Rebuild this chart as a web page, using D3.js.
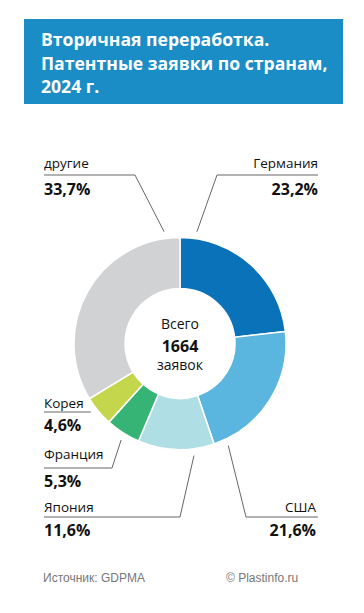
<!DOCTYPE html>
<html>
<head>
<meta charset="UTF-8">
<script src="https://d3js.org/d3.v7.min.js"></script>
<style>
  body { margin: 0; background: #fff; }
  svg { display: block; }
</style>
</head>
<body>
<svg></svg>
<script>
const width = 364;
const height = 613;

const titleLines = ["Вторичная переработка.", "Патентные заявки по странам,", "2024 г."];
const countries = ["Германия", "США", "Япония", "Франция", "Корея", "другие"];
const shares = [23.2, 21.6, 11.6, 5.3, 4.6, 33.7];
const colors = ["#0a72b9", "#5bb6df", "#afdee5", "#36b475", "#c4d64b", "#d1d2d4"];
const totalLabel = ["Всего", "1664", "заявок"];

// label layout: leader angle (deg from top, clockwise), elbow point, text position
const labelLayout = [
  {angle: 8.6,   elbow: [217, 175], x: 318, anchor: "end",   y: 168, dy: 27},
  {angle: 154.7, elbow: [246, 517], x: 316, anchor: "end",   y: 512, dy: 24},
  {angle: 172.9, elbow: [180, 517], x: 44,  anchor: "start", y: 512, dy: 24},
  {angle: 211.4, elbow: [112, 468], x: 44,  anchor: "start", y: 459, dy: 28},
  {angle: 232.1, elbow: null,       x: 44,  anchor: "start", y: 408, dy: 23},
  {angle: 351.9, elbow: [135, 175], x: 44,  anchor: "start", y: 168, dy: 27}
];

const font = "'Open Sans', 'Noto Sans', sans-serif";
const cx = 180, cy = 343.5;
const outerR = 106, innerR = 55;

const svg = d3.select("svg")
  .attr("width", width)
  .attr("height", height)
  .attr("viewBox", [0, 0, width, height]);

// header
svg.append("rect")
  .attr("x", 24).attr("y", 19)
  .attr("width", 319).attr("height", 85)
  .attr("fill", "#1a8cc6");

svg.append("g")
  .selectAll("text")
  .data(titleLines)
  .join("text")
    .attr("x", 41)
    .attr("y", (d, i) => 46 + i * 23.5)
    .attr("fill", "#fff")
    .attr("font-family", font)
    .attr("font-weight", "bold")
    .attr("font-size", 17.6)
    .text(d => d);

// donut
const pie = d3.pie().sort(null).value(d => d)(shares);
const arc = d3.arc().innerRadius(innerR).outerRadius(outerR);

const g = svg.append("g").attr("transform", `translate(${cx},${cy})`);
g.selectAll("path")
  .data(pie)
  .join("path")
    .attr("d", arc)
    .attr("fill", (d, i) => colors[i])
    .attr("stroke", "#fff")
    .attr("stroke-width", 1.5);

g.selectAll("text")
  .data(totalLabel)
  .join("text")
    .attr("text-anchor", "middle")
    .attr("y", (d, i) => [-15, 8, 26][i])
    .attr("font-family", font)
    .attr("font-weight", (d, i) => i === 1 ? "bold" : "normal")
    .attr("font-size", (d, i) => i === 1 ? 16 : 14)
    .attr("fill", "#111")
    .text(d => d);

// labels and leaders
const fmt = v => d3.format(".1f")(v).replace(".", ",") + "%";
const leadR = outerR + 7;
const labels = svg.append("g");

countries.forEach((name, i) => {
  const L = labelLayout[i];
  const a = L.angle * Math.PI / 180;
  const px = cx + leadR * Math.sin(a);
  const py = cy - leadR * Math.cos(a);
  const lineY = L.elbow ? L.elbow[1] : L.y + 4;
  const left = L.anchor === "start";
  const pts = L.elbow
    ? [[left ? 44 : 318, lineY], L.elbow, [px, py]]
    : [[44, lineY], [px, lineY]];

  labels.append("path")
    .attr("d", d3.line()(pts))
    .attr("fill", "none")
    .attr("stroke", "#555")
    .attr("stroke-width", 0.9);

  labels.append("text")
    .attr("x", L.x)
    .attr("y", L.y)
    .attr("text-anchor", L.anchor)
    .attr("font-family", font)
    .attr("font-size", 13.5)
    .attr("fill", "#111")
    .text(name);

  labels.append("text")
    .attr("x", L.x)
    .attr("y", L.y + L.dy)
    .attr("text-anchor", L.anchor)
    .attr("font-family", font)
    .attr("font-weight", "bold")
    .attr("font-size", 16)
    .attr("fill", "#111")
    .text(fmt(shares[i]));
});

// footer
svg.append("text")
  .attr("x", 43).attr("y", 582)
  .attr("font-family", "'Liberation Sans', Arial, sans-serif")
  .attr("font-size", 12)
  .attr("fill", "#777")
  .text("Источник: GDPMA");

svg.append("text")
  .attr("x", 226).attr("y", 582)
  .attr("font-family", "'Liberation Sans', Arial, sans-serif")
  .attr("font-size", 12)
  .attr("fill", "#777")
  .text("© Plastinfo.ru");
</script>
</body>
</html>
